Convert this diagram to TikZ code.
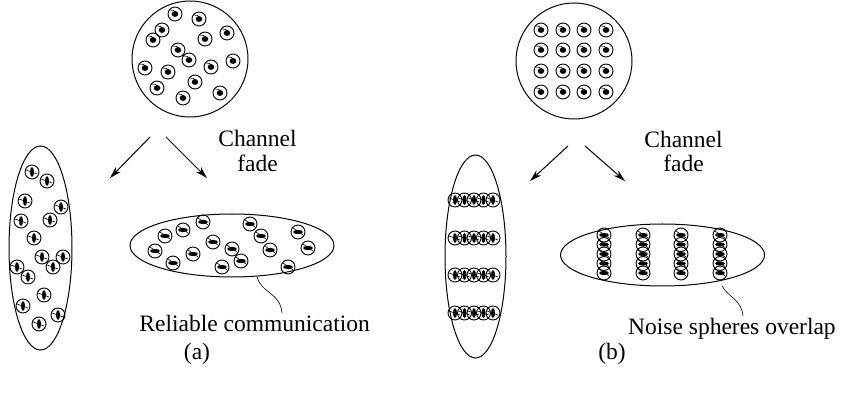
\documentclass[tikz,border=0pt]{standalone}
\usepackage{fontspec}
\setmainfont{Liberation Serif}
\usetikzlibrary{arrows.meta}
\tikzset{
  outline/.style={draw=black, line width=1pt},
  sphbase/.style={draw=black, line width=0.9pt},
  fadearrow/.style={draw=black, line width=1pt, -{Stealth[length=12pt,width=7pt]}},
  lbl/.style={font=\fontsize{23.5}{26}\selectfont, inner sep=0pt},
  sphR/.pic={\draw[sphbase] (0,0) circle (7); \fill (0,0) ellipse (3.3 and 2.9); \draw[line width=0.6pt] (-5,-4) .. controls (-2,-4) .. (2,-1);},
  sphV/.pic={\draw[sphbase] (0,0) circle (7); \fill (0,0) ellipse (2 and 4.8); \draw[line width=0.6pt] (-6,-2) -- (5,2);},
  sphH/.pic={\draw[sphbase] (0,0) circle (7); \fill (0,0) ellipse (4.8 and 2.1); \draw[line width=0.6pt] (-5,-4) -- (5,3);},
}
\begin{document}
\begin{tikzpicture}[x=1pt,y=-1pt]
\useasboundingbox (0,0) rectangle (849,411);
% ---------------- (a) ----------------
\node[outline, circle, minimum size=116pt, inner sep=0pt] (ta) at (190,59) {};
\foreach \p in {(175,14),(199,19),(162,30),(153,40),(227,33),(205,39),(178,50),(189,60),(211,67),(233,61),(145,68),(168,72),(195,82),(157,88),(220,93),(183,98)}
  \pic at \p {sphR};
\node[lbl, anchor=base] (cha) at (257.5,147) {Channel};
\node[lbl, anchor=base] (fda) at (257.5,172) {fade};
\coordinate (a1s) at (150,137); \coordinate (a1e) at (110,178);
\coordinate (a2s) at (166,137); \coordinate (a2e) at (207,178);
\draw[fadearrow] (a1s) -- (a1e);
\draw[fadearrow] (a2s) -- (a2e);
% tall ellipse
\draw[outline] (40.5,248) ellipse (31.5 and 102);
\foreach \p in {(32,172),(47,181),(25,201),(61,207),(21,221),(50,220),(34,238),(42,257),(63,257),(53,267),(17,267),(28,277),(44,295),(23,306),(58,315),(39,324)}
  \pic at \p {sphV};
% wide ellipse
\draw[outline] (232,245.5) ellipse (102 and 31.5);
\foreach \p in {(203,222),(183,230),(165,236),(155,251),(173,263),(193,254),(213,242),(232,249),(241,261),(222,267),(250,224),(261,236),(270,250),(298,232),(308,248),(288,267)}
  \pic at \p {sphH};
\coordinate (sqa) at (257,277);
\node[lbl, anchor=base east] (rc) at (370,332) {Reliable communication};
\draw[line width=0.6pt] (sqa) .. controls (262,294) and (280,292) .. (282,313);
\node[lbl] (la) at (197,354) {(a)};
% ---------------- (b) ----------------
\node[outline, circle, minimum size=116pt, inner sep=0pt] (tb) at (574,61) {};
\foreach \x in {541,563,584,606}
  \foreach \y in {30,50,71,92}
    \pic at (\x,\y) {sphR};
\node[lbl, anchor=base] (chb) at (683.5,148) {Channel};
\node[lbl, anchor=base] (fdb) at (683.5,172) {fade};
\coordinate (b1s) at (568,146); \coordinate (b1e) at (530,181);
\coordinate (b2s) at (585,146); \coordinate (b2e) at (625,181);
\draw[fadearrow] (b1s) -- (b1e);
\draw[fadearrow] (b2s) -- (b2e);
% tall ellipse
\draw[outline] (475.5,256.5) ellipse (30.5 and 101.5);
\foreach \y in {200,238,275,313}
  \foreach \x in {455,464.5,474,483.5,493}
    \pic at (\x,\y) {sphV};
% wide ellipse
\draw[outline] (662.5,255) ellipse (102 and 31);
\foreach \x in {604,643,681,720}
  \foreach \y in {235,244.5,254,263.5,273}
    \pic at (\x,\y) {sphH};
\coordinate (sqb) at (722,286);
\node[lbl, anchor=base west] (ns) at (628,335) {Noise spheres overlap};
\draw[line width=0.6pt] (sqb) .. controls (727,296) and (742,300) .. (743,316);
\node[lbl] (lb) at (612,354) {(b)};
\end{tikzpicture}
\end{document}
